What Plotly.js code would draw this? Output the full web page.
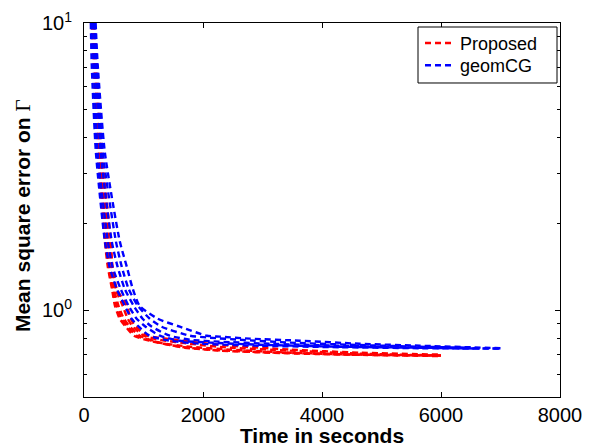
<!DOCTYPE html>
<html>
<head>
<meta charset="utf-8">
<script src="https://cdn.plot.ly/plotly-3.0.1.min.js"></script>
<style>html,body{margin:0;padding:0;background:#fff;}#chart{width:591px;height:447px;}</style>
</head>
<body>
<div id="chart"></div>
<script>
// Proposed (red) runs
const proposed1_t = [130,160,230,350,400,470,520,600,700,840,1100,1610,2280,3290,4470,6000];
const proposed1_y = [10,7.17,3.55,1.745,1.418,1.189,1.038,0.936,0.878,0.817,0.785,0.748,0.725,0.713,0.702,0.694];
const proposed2_t = [145,180,250,365,415,480,550,630,735,885,1190,1690,2370,3290,4470,6000];
const proposed2_y = [10,7.17,3.55,1.745,1.418,1.189,1.038,0.936,0.878,0.817,0.779,0.742,0.725,0.711,0.702,0.697];
const proposed3_t = [145,180,265,380,430,500,580,670,770,935,1270,1780,2450,3460,4630,6000];
const proposed3_y = [10,7.17,3.55,1.745,1.418,1.189,1.038,0.936,0.878,0.817,0.773,0.748,0.731,0.713,0.702,0.697];
const proposed4_t = [165,195,280,415,465,530,650,735,820,1005,1270,1780,2450,3460,4630,6000];
const proposed4_y = [10,7.17,3.55,1.745,1.418,1.189,1.038,0.936,0.878,0.817,0.791,0.766,0.742,0.725,0.708,0.697];
const proposed5_t = [180,215,300,450,480,550,720,785,870,1055,1270,1780,2450,3460,4630,6000];
const proposed5_y = [10,7.17,3.55,1.745,1.418,1.189,1.038,0.936,0.878,0.817,0.804,0.779,0.754,0.731,0.713,0.702];
// geomCG (blue) runs
const geom1_t = [115,130,200,350,430,550,685,800,920,1100,1440,1945,2950,4300,5640,7000];
const geom1_y = [10,7.17,3.55,1.745,1.418,1.189,1.038,0.936,0.878,0.817,0.785,0.766,0.754,0.745,0.739,0.737];
const geom2_t = [130,165,230,400,480,615,750,885,1035,1275,1610,2115,2950,4300,5640,6650];
const geom2_y = [10,7.17,3.55,1.745,1.418,1.189,1.038,0.936,0.878,0.817,0.785,0.773,0.760,0.748,0.742,0.737];
const geom3_t = [165,195,280,465,565,685,835,985,1140,1440,1780,2280,3120,4300,5640,7000];
const geom3_y = [10,7.17,3.55,1.745,1.418,1.189,1.038,0.936,0.878,0.817,0.791,0.779,0.766,0.754,0.742,0.737];
const geom4_t = [180,215,315,535,635,750,905,1105,1305,1780,2115,2620,3460,4470,5640,6480];
const geom4_y = [10,7.17,3.55,1.745,1.418,1.189,1.038,0.936,0.878,0.817,0.804,0.791,0.773,0.760,0.748,0.742];
const geom5_t = [195,230,350,600,720,820,935,1240,1610,2065,2280,2785,3630,4630,5640,7000];
const geom5_y = [10,7.17,3.55,1.745,1.418,1.189,1.038,0.936,0.878,0.817,0.811,0.798,0.785,0.766,0.754,0.739];

const seriesNames = ['Proposed','geomCG'];
const xTicks = [0,2000,4000,6000,8000];
const yTicks = [1,10];
const yTickText = ['10<sup>0</sup>','10<sup>1</sup>'];
const yMinor = [0.5,0.6,0.7,0.8,0.9,2,3,4,5,6,7,8,9];

const red = [[proposed1_t,proposed1_y],[proposed2_t,proposed2_y],[proposed3_t,proposed3_y],[proposed4_t,proposed4_y],[proposed5_t,proposed5_y]];
const blue = [[geom1_t,geom1_y],[geom2_t,geom2_y],[geom3_t,geom3_y],[geom4_t,geom4_y],[geom5_t,geom5_y]];

const traces = [];
function add(list, color, name, legendId){
  list.forEach((s,i)=>{
    traces.push({x:s[0], y:s[1], type:'scatter', mode:'lines', name:name,
      showlegend:i===0, legend:legendId,
      line:{color:color, width:2.4, dash:'6px,4px', shape:'spline', smoothing:0.6}});
  });
}
add(red,'#ff0000',seriesNames[0],'legend');
add(blue,'#0000ff',seriesNames[1],'legend2');

const fontFam = 'Liberation Sans, Arial, sans-serif';
const legendBase = {xanchor:'left', yanchor:'top', bgcolor:'rgba(0,0,0,0)', borderwidth:0,
  font:{size:18, family:fontFam}, itemwidth:30};
const layout = {
  width:591, height:447,
  margin:{l:84, r:31, t:23, b:50, pad:0},
  paper_bgcolor:'#fff', plot_bgcolor:'#fff',
  font:{family:fontFam, size:20, color:'#000'},
  showlegend:true,
  legend:Object.assign({x:0.7059, y:0.995}, legendBase),
  legend2:Object.assign({x:0.7059, y:0.9355}, legendBase),
  shapes:[{type:'rect', xref:'paper', yref:'paper', x0:0.7017, x1:0.9937, y0:0.8396, y1:0.9893,
    line:{color:'#000', width:1}, fillcolor:'#fff', layer:'above'}],
  xaxis:{range:[0,8000], tickvals:xTicks, ticks:'inside', ticklen:5, tickcolor:'#000',
    showline:true, linecolor:'#000', linewidth:1, mirror:'ticks', showgrid:false, zeroline:false,
    tickfont:{size:20}, automargin:false,
    title:{text:'<b>Time in seconds</b>', font:{size:21}, standoff:0}},
  yaxis:{type:'log', range:[Math.log10(0.5), 1], tickvals:yTicks, ticktext:yTickText,
    ticks:'inside', ticklen:5, tickcolor:'#000', showline:true, linecolor:'#000', linewidth:1,
    mirror:'ticks', showgrid:false, zeroline:false, tickfont:{size:20}, automargin:false,
    ticklabelstandoff:7,
    minor:{tickvals:yMinor, ticks:'inside', ticklen:3, tickcolor:'#000', showgrid:false}},
  annotations:[{xref:'paper', yref:'paper', x:-0.128, y:0.484, xanchor:'center', yanchor:'middle',
    textangle:-90, showarrow:false, font:{size:21, family:fontFam},
    text:'<b>Mean square error on </b><span style="font-family:\'Liberation Serif\';font-weight:normal">Γ</span>'}]
};
Plotly.newPlot('chart', traces, layout, {staticPlot:true, displayModeBar:false});
</script>
</body>
</html>
